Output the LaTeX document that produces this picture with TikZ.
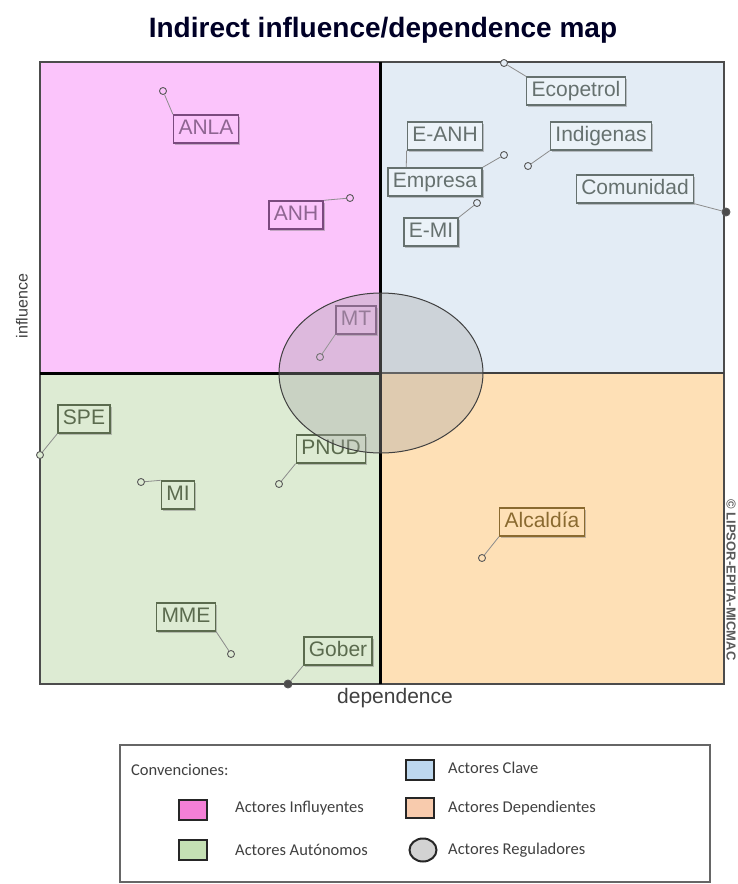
\documentclass[tikz,border=0pt]{standalone}
\usepackage{fontspec}
\setmainfont{Liberation Sans}
\newfontfamily\legendfont{Carlito}
\usepackage{xcolor}
\usetikzlibrary{shapes}
\usetikzlibrary{shadows}
\definecolor{influyente}{HTML}{FBC4FB}
\definecolor{clave}{HTML}{E3ECF5}
\definecolor{autonomo}{HTML}{DDEBD3}
\definecolor{dependiente}{HTML}{FEE0B6}
\definecolor{influyenteLine}{HTML}{7A4A7E}
\definecolor{claveLine}{HTML}{66716F}
\definecolor{autonomoLine}{HTML}{5B6B4E}
\definecolor{dependienteLine}{HTML}{8A6A30}
\definecolor{keyClave}{HTML}{BDD7EE}
\definecolor{keyInfl}{HTML}{F47FD6}
\definecolor{keyDep}{HTML}{F8CBAD}
\definecolor{keyAuto}{HTML}{C5E0B4}
\colorlet{frame}{black!70}
\tikzset{
  % node options
  actor/.style={rectangle,draw,line width=1.4pt,inner xsep=5pt,inner ysep=4pt,
    text height=15pt,text depth=5pt,font=\fontsize{21}{21}\selectfont,
    drop shadow={shadow xshift=1.5pt,shadow yshift=-1.5pt,opacity=.45}},
  actorInfl/.style={actor,fill=influyente,draw=influyenteLine,text=influyenteLine!85!white},
  actorClave/.style={actor,fill=clave!70!white,draw=claveLine,text=claveLine},
  actorAuto/.style={actor,fill=autonomo,draw=autonomoLine,text=autonomoLine},
  actorDep/.style={actor,fill=dependiente,draw=dependienteLine,text=dependienteLine},
  actorClaveEdge/.style={actorClave},
  actorAutoEdge/.style={actorAuto},
  pt/.style={circle,draw=black!65,line width=.9pt,inner sep=0,minimum size=7pt},
  ptInfl/.style={pt,fill=influyente},
  ptClave/.style={pt,fill=clave},
  ptAuto/.style={pt,fill=autonomo},
  ptDep/.style={pt,fill=dependiente},
  ptClaveEdge/.style={pt,fill=black!70,minimum size=8pt},
  ptAutoEdge/.style={pt,fill=black!70,minimum size=8pt},
  regulador/.style={ellipse,draw=black!75,line width=1pt,fill=gray!70,fill opacity=.35},
  swatch/.style={rectangle,draw=black!85,line width=2pt,minimum width=28pt,minimum height=20pt},
  legendtext/.style={anchor=west,inner sep=0,text=black!75,font=\legendfont\fontsize{16.5}{16.5}\selectfont},
  % path options
  leader/.style={draw=black!45,line width=.8pt},
}
% quadrant, name, text, point, label, corner
\newcommand{\actor}[6]{%
  \node[pt#1] (#2 pt) at #4 {};
  \node[actor#1] (#2) at #5 {#3};
  \draw[leader] (#2 pt) -- (#2.#6);}

\begin{document}
\begin{tikzpicture}[x=1pt,y=-1pt]
    \useasboundingbox (0,0) rectangle (738,884);
    \node[font=\bfseries\fontsize{28}{28}\selectfont,text=black!85!blue] (title) at (383,30) {Indirect influence/dependence map};
    % quadrants
    \fill[influyente] (40,62) rectangle (380,373);
    \fill[clave] (380,62) rectangle (724,373);
    \fill[autonomo] (40,373) rectangle (380,684);
    \fill[dependiente] (380,373) rectangle (724,684);
    \draw[frame,line width=2pt] (40,62) rectangle (724,684);
    \draw[line width=1.6pt,black!75] (380,373) -- (724,373);
    \draw[line width=3pt] (40,373) -- (380,373);
    \draw[line width=3pt] (380,62) -- (380,684);
    \node[rotate=90,text=black!75,font=\fontsize{16}{16}\selectfont] (influence) at (22,306) {influence};
    \node[text=black!75,font=\fontsize{21}{21}\selectfont] (dependence) at (395,698) {dependence};
    \node[rotate=-90,text=black!65,font=\bfseries\fontsize{13}{13}\selectfont] (micmac) at (731,580) {© LIPSOR-EPITA-MICMAC};
    % actors
    \actor{Infl}{anla}{ANLA}{(163,91)}{(206,129)}{north west}
    \actor{Infl}{anh}{ANH}{(350,198)}{(296,215)}{north east}
    \actor{Infl}{mt}{MT}{(320,357)}{(356,320)}{south west}
    \actor{Clave}{ecopetrol}{Ecopetrol}{(504,63)}{(576,91)}{north west}
    \actor{Clave}{eanh}{E-ANH}{(406,178)}{(445,136)}{south west}
    \actor{Clave}{indigenas}{Indigenas}{(528,166)}{(601,136)}{south west}
    \actor{Clave}{empresa}{Empresa}{(504,155)}{(435,182)}{north east}
    \actor{Clave}{emi}{E-MI}{(477,203)}{(431,232)}{north east}
    \actor{ClaveEdge}{comunidad}{Comunidad}{(726,212)}{(635,189)}{south east}
    \actor{Auto}{spe}{SPE}{(40,455)}{(84,419)}{south west}
    \actor{Auto}{mi}{MI}{(141,482)}{(178,495)}{north west}
    \actor{Auto}{pnud}{PNUD}{(279,484)}{(331,449)}{south west}
    \actor{Auto}{mme}{MME}{(231,654)}{(186,617)}{south east}
    \actor{AutoEdge}{gober}{Gober}{(288,684)}{(338,651)}{south west}
    \actor{Dep}{alcaldia}{Alcaldía}{(482,558)}{(542,522)}{south west}
    \node[regulador,minimum width=204pt,minimum height=160pt] (reguladores) at (381,373) {};
    % legend
    \draw[black!60,line width=1.5pt] (120,745) rectangle (710,882);
    \node[legendtext] (convenciones) at (131,770) {Convenciones:};
    \node[swatch,fill=keyClave] (keyClave) at (420,770) {};
    \node[legendtext] at (448,768) {Actores Clave};
    \node[swatch,fill=keyInfl] (keyInfl) at (193,810) {};
    \node[legendtext] at (235,808) {Actores Influyentes};
    \node[swatch,fill=keyDep] (keyDep) at (420,808) {};
    \node[legendtext] at (448,808) {Actores Dependientes};
    \node[swatch,fill=keyAuto] (keyAuto) at (193,850) {};
    \node[legendtext] at (235,850) {Actores Autónomos};
    \node[ellipse,draw=black!85,line width=2pt,fill=gray!35,minimum width=27pt,minimum height=23pt] (keyReg) at (423,850) {};
    \node[legendtext] at (448,850) {Actores Reguladores};
\end{tikzpicture}
\end{document}
